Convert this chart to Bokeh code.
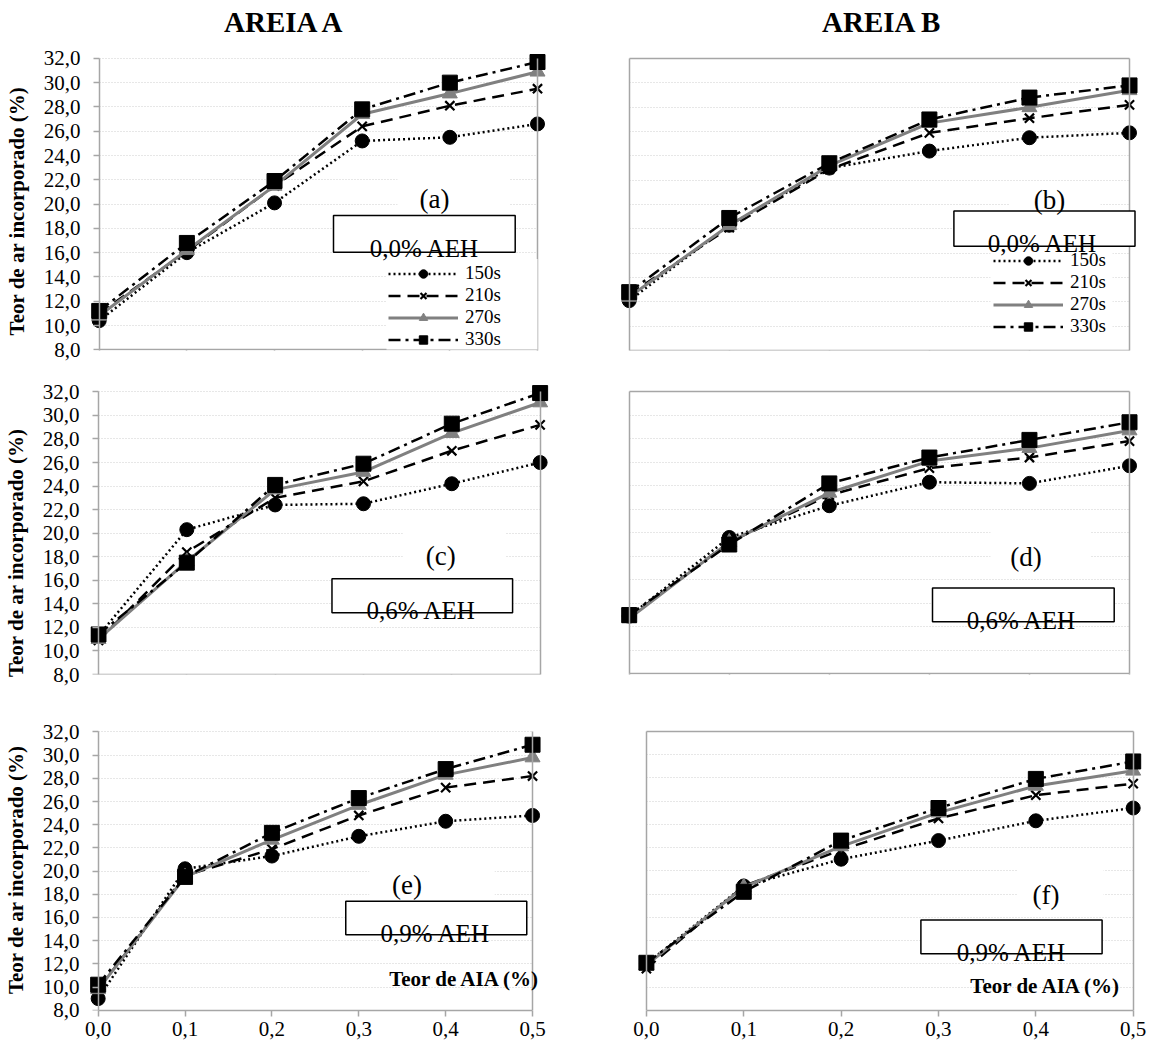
import math

from bokeh.core.properties import value
from bokeh.embed import file_html
from bokeh.layouts import column, row
from bokeh.models import (BoxAnnotation, CustomJSTickFormatter, Div, FixedTicker, Grid, Label,
                          Legend, LegendItem, LinearAxis, Range1d)
from bokeh.plotting import figure
from bokeh.resources import INLINE

FONT = "Liberation Serif"

# ---------------- data ----------------
teor_aia = [0.0, 0.1, 0.2, 0.3, 0.4, 0.5]
x_tick_values = [0.0, 0.1, 0.2, 0.3, 0.4, 0.5]
y_tick_values = [8, 10, 12, 14, 16, 18, 20, 22, 24, 26, 28, 30, 32]
y_inner_ticks = [10, 12, 14, 16, 18, 20, 22, 24, 26, 28, 30]
tempos = ["150s", "210s", "270s", "330s"]
areias = ["AREIA A", "AREIA B"]
aeh_labels = ["0,0% AEH", "0,6% AEH", "0,9% AEH"]
panel_tags = ["(a)", "(b)", "(c)", "(d)", "(e)", "(f)"]
y_axis_title = "Teor de ar incorporado (%)"
x_axis_title = "Teor de AIA (%)"

# (a) AREIA A, 0,0% AEH
a_150s = [10.4, 16.0, 20.1, 25.2, 25.5, 26.6]
a_210s = [11.0, 16.1, 21.5, 26.4, 28.1, 29.5]
a_270s = [10.8, 16.2, 21.5, 27.4, 29.1, 30.9]
a_330s = [11.2, 16.8, 21.9, 27.8, 30.0, 31.7]
# (b) AREIA B, 0,0% AEH
b_150s = [12.1, 18.3, 23.0, 24.4, 25.5, 25.9]
b_210s = [12.6, 18.1, 22.9, 25.9, 27.1, 28.2]
b_270s = [12.4, 18.3, 23.2, 26.7, 28.0, 29.4]
b_330s = [12.8, 18.9, 23.4, 27.0, 28.8, 29.8]
# (c) AREIA A, 0,6% AEH
c_150s = [11.3, 20.3, 22.4, 22.5, 24.2, 26.0]
c_210s = [10.9, 18.4, 23.0, 24.4, 27.0, 29.2]
c_270s = [11.0, 17.6, 23.7, 25.2, 28.5, 31.1]
c_330s = [11.4, 17.5, 24.1, 25.9, 29.3, 31.9]
# (d) AREIA B, 0,6% AEH
d_150s = [12.9, 19.6, 22.3, 24.3, 24.2, 25.7]
d_210s = [12.8, 19.2, 23.2, 25.5, 26.4, 27.8]
d_270s = [12.7, 19.2, 23.4, 26.1, 27.2, 28.7]
d_330s = [13.0, 19.0, 24.2, 26.4, 27.9, 29.4]
# (e) AREIA A, 0,9% AEH
e_150s = [9.0, 20.2, 21.3, 23.0, 24.3, 24.8]
e_210s = [9.8, 19.6, 21.9, 24.8, 27.2, 28.2]
e_270s = [9.8, 19.5, 22.7, 25.7, 28.3, 29.8]
e_330s = [10.2, 19.5, 23.3, 26.3, 28.8, 30.9]
# (f) AREIA B, 0,9% AEH
f_150s = [12.0, 18.7, 21.0, 22.6, 24.3, 25.4]
f_210s = [11.6, 18.7, 21.8, 24.5, 26.5, 27.5]
f_270s = [11.9, 18.6, 22.1, 25.0, 27.3, 28.6]
f_330s = [12.1, 18.2, 22.6, 25.4, 27.9, 29.4]

panel_series = {
    "a": [a_150s, a_210s, a_270s, a_330s],
    "b": [b_150s, b_210s, b_270s, b_330s],
    "c": [c_150s, c_210s, c_270s, c_330s],
    "d": [d_150s, d_210s, d_270s, d_330s],
    "e": [e_150s, e_210s, e_270s, e_330s],
    "f": [f_150s, f_210s, f_270s, f_330s],
}

# ---------------- styles ----------------
GRAY_AXIS = "#a6a6a6"
GRID_COL = "#cfcfcf"
series_style = [
    dict(line_color="black", line_width=2.5, line_dash="2 3", marker="circle", size=14,
         fill_color="black", mline="black", mwidth=1),
    dict(line_color="black", line_width=2.5, line_dash="12 7", marker="x", size=13,
         fill_color="black", mline="black", mwidth=2.2),
    dict(line_color="#808080", line_width=3, line_dash="solid", marker="triangle", size=15,
         fill_color="#808080", mline="#808080", mwidth=1),
    dict(line_color="black", line_width=2.5, line_dash="12 5 3 5", marker="square", size=15,
         fill_color="black", mline="black", mwidth=1),
]

# ---------------- layout geometry (page pixels, page origin = 0,0) ----------------
TITLE_H = 45
layout_spec = {
    "a": dict(cell=(0, TITLE_H, 580, 370), geom=(98.7, 537.0, 58.0, 354.3), labels=True, xlab=False,
              ylab_shift=4,
              tag=(434, 201), tagbg=(397, 176, 509, 214), box=(333, 217.7, 514.7, 255),
              aeh=(424, 251.7), legend=(388, 355), legbg=(386, 262, 537, 354)),
    "b": dict(cell=(580, TITLE_H, 1154, 370), geom=(628.7, 1129.0, 53.3, 350.0), labels=False, xlab=False,
              tag=(1049, 196.5), tagbg=(1009, 185, 1100, 208), box=(953.4, 208.3, 1134.5, 244),
              aeh=(1042, 241), legend=(992.7, 337), legbg=(990, 250, 1112, 338)),
    "c": dict(cell=(0, 370, 580, 700), geom=(97.0, 539.6, 391.7, 685.0), labels=True, xlab=False,
              ylab_shift=9,
              tag=(440, 562), tagbg=(402, 532, 505, 578), box=(331, 585.7, 512, 621),
              aeh=(420.5, 618.3)),
    "d": dict(cell=(580, 370, 1154, 700), geom=(628.7, 1129.0, 388.3, 673.3), labels=False, xlab=False,
              tag=(1025.5, 555.5), tagbg=(990, 525, 1090, 572), box=(932, 586.7, 1113.7, 620.7),
              aeh=(1021, 619.3)),
    "e": dict(cell=(0, 700, 580, 1052), geom=(95.7, 532.0, 731.7, 1016.7), labels=True, xlab=True,
              ylab_shift=1,
              tag=(406, 888), tagbg=(368, 862, 494, 905), box=(344.4, 905, 526.2, 939.3),
              aeh=(434.5, 938.3), aia=(388, 985)),
    "f": dict(cell=(580, 700, 1154, 1052), geom=(645.9, 1132.7, 720.0, 1010.0), labels=False, xlab=True,
              tag=(1045.4, 890), tagbg=(1017, 858, 1103, 905), box=(920.4, 916, 1101.6, 951),
              aeh=(1011, 950), aia=(969.8, 985)),
}
panel_index = {"a": 0, "b": 1, "c": 2, "d": 3, "e": 4, "f": 5}
LABEL_GAP = 18.7  # px from y=0 line to right edge of tick labels

comma_fmt = CustomJSTickFormatter(code="return tick.toFixed(1).replace('.', ',');")
empty_fmt = CustomJSTickFormatter(code="return '';")
HAS_CROSS = "cross_bounds" in Grid.properties()


def make_panel(key):
    spec = layout_spec[key]
    idx = panel_index[key]
    cl, ct, cr, cb = spec["cell"]
    x0, x1, yt, yb = spec["geom"]
    fl, fr, ft, fb = math.floor(x0 - 8), math.ceil(x1 + 10), math.floor(yt - 8), math.ceil(yb)
    kx = 0.5 / (x1 - x0)
    ky = 24.0 / (yb - yt)

    def dx(px):
        return (px - x0) * kx

    def dy(py):
        return 8 + (yb - py) * ky

    p = figure(width=cr - cl, height=cb - ct,
               x_range=Range1d(dx(fl), dx(fr)), y_range=Range1d(dy(fb), dy(ft)),
               x_axis_type=None, y_axis_type=None,
               output_backend="svg", toolbar_location=None,
               min_border_left=fl - cl, min_border_right=cr - fr,
               min_border_top=ft - ct, min_border_bottom=cb - fb,
               background_fill_color="white", border_fill_color="white",
               outline_line_color=None)

    grid_ticks = y_tick_values if spec["labels"] else y_inner_ticks
    if HAS_CROSS:
        p.add_layout(Grid(dimension=1, ticker=FixedTicker(ticks=grid_ticks), cross_bounds=(0, 0.5),
                          grid_line_color=GRID_COL, grid_line_dash="1 2", grid_line_width=1))
    else:
        p.segment(x0=[0] * len(grid_ticks), y0=grid_ticks, x1=[0.5] * len(grid_ticks), y1=grid_ticks,
                  line_color=GRID_COL, line_dash="1 2", line_width=1)

    def plain_axis(loc, bounds, ticks=None):
        return LinearAxis(fixed_location=loc, bounds=bounds, ticker=FixedTicker(ticks=ticks or []),
                          formatter=empty_fmt,
                          axis_line_color=GRAY_AXIS, axis_line_width=1.5,
                          major_tick_line_color=GRAY_AXIS if ticks else None,
                          major_tick_line_width=1.5, major_tick_out=6, major_tick_in=0,
                          minor_tick_line_color=None)

    # left: axis line (+ ticks) exactly at x = 0
    p.add_layout(plain_axis(0, (8, 32), y_tick_values if spec["labels"] else None), "left")
    if spec["labels"]:
        # labels-only axis in the side panel; trailing no-break spaces nudge the
        # rotated title downwards to where the original places it
        ytitle = y_axis_title + "\u00a0" * spec["ylab_shift"]
        yl = LinearAxis(bounds=(8, 32), ticker=FixedTicker(ticks=y_tick_values), formatter=comma_fmt,
                        axis_line_color=None, major_tick_line_color=None, minor_tick_line_color=None,
                        major_tick_out=0, major_tick_in=0,
                        major_label_standoff=int(round(fl - (x0 - LABEL_GAP))),
                        major_label_text_font=FONT, major_label_text_font_size="21px",
                        major_label_text_color="black",
                        axis_label=ytitle, axis_label_standoff=12,
                        axis_label_text_font=FONT, axis_label_text_font_style="bold",
                        axis_label_text_font_size="21px", axis_label_text_color="black")
        p.add_layout(yl, "left")
    p.add_layout(plain_axis(0.5, (8, 32)), "right")
    if not spec["labels"]:
        p.add_layout(plain_axis(32, (0, 0.5)), "above")

    # bottom axis
    if spec["xlab"]:
        xax = LinearAxis(bounds=(0, 0.5), ticker=FixedTicker(ticks=x_tick_values),
                         formatter=comma_fmt, axis_line_color=GRAY_AXIS, axis_line_width=1.5,
                         major_tick_line_color=GRAY_AXIS, major_tick_line_width=1.5,
                         major_tick_out=6, major_tick_in=0, minor_tick_line_color=None,
                         major_label_standoff=5, major_label_text_font=FONT,
                         major_label_text_font_size="21px", major_label_text_color="black")
        p.add_layout(xax, "below")
    else:
        p.add_layout(plain_axis(8, (0, 0.5), x_tick_values), "below")

    # data
    items = []
    for name, ys, st in zip(tempos, panel_series[key], series_style):
        lr = p.line(teor_aia, ys, line_color=st["line_color"], line_width=st["line_width"],
                    line_dash=st["line_dash"])
        sr = p.scatter(teor_aia, ys, marker=st["marker"], size=st["size"],
                       fill_color=st["fill_color"], line_color=st["mline"], line_width=st["mwidth"])
        items.append(LegendItem(label=value(name), renderers=[lr, sr]))

    # white patches behind the panel tag and legend
    tl, tt, tr, tbm = spec["tagbg"]
    p.add_layout(BoxAnnotation(left=dx(tl), right=dx(tr), top=dy(tt), bottom=dy(tbm),
                               fill_color="white", fill_alpha=1, line_color=None))
    if "legbg" in spec:
        ll, lt, lr_, lb = spec["legbg"]
        p.add_layout(BoxAnnotation(left=dx(ll), right=dx(lr_), top=dy(lt), bottom=dy(lb),
                                   fill_color="white", fill_alpha=1, line_color=None))

    # AEH box
    bl, bt, br, bbm = spec["box"]
    p.add_layout(BoxAnnotation(left=dx(bl), right=dx(br), top=dy(bt), bottom=dy(bbm),
                               fill_color="white", fill_alpha=1, line_color="black",
                               line_alpha=1, line_width=1.5))
    ax_, ay_ = spec["aeh"]
    p.add_layout(Label(x=dx(ax_), y=dy(ay_), text=aeh_labels[idx // 2], text_align="center",
                       text_baseline="alphabetic", text_font=FONT, text_font_size="25px",
                       text_color="black"))
    tx, ty = spec["tag"]
    p.add_layout(Label(x=dx(tx), y=dy(ty), text=panel_tags[idx], text_align="center",
                       text_baseline="middle", text_font=FONT, text_font_size="27px",
                       text_color="black"))
    if "aia" in spec:
        sx, sy = spec["aia"]
        p.add_layout(Label(x=dx(sx), y=dy(sy), text=x_axis_title, text_align="left",
                           text_baseline="alphabetic", text_font=FONT, text_font_style="bold",
                           text_font_size="21px", text_color="black"))
    if "legend" in spec:
        gx, gbottom = spec["legend"]
        leg = Legend(items=items, location=(int(round(gx - fl)), int(round(fb - gbottom))),
                     orientation="vertical",
                     glyph_width=70, glyph_height=21, label_height=21, spacing=0,
                     padding=0, margin=0, label_standoff=7, border_line_color=None,
                     background_fill_color="white", background_fill_alpha=0,
                     label_text_font=FONT, label_text_font_size="19px",
                     label_text_baseline="middle", label_text_color="black")
        p.add_layout(leg)
    return p


def title_div(text, width, indent):
    return Div(text=text, width=width, height=TITLE_H,
               styles={"font-family": FONT, "font-size": "29px", "font-weight": "bold",
                       "line-height": "44px", "text-indent": f"{indent}px",
                       "white-space": "nowrap", "color": "black", "margin": "0", "padding": "0"})


panels = {k: make_panel(k) for k in ["a", "b", "c", "d", "e", "f"]}
titles = row(title_div(areias[0], 580, 224), title_div(areias[1], 574, 242))
page = column(titles,
              row(panels["a"], panels["b"]),
              row(panels["c"], panels["d"]),
              row(panels["e"], panels["f"]))

open("out.html", "w").write(file_html(page, INLINE))
